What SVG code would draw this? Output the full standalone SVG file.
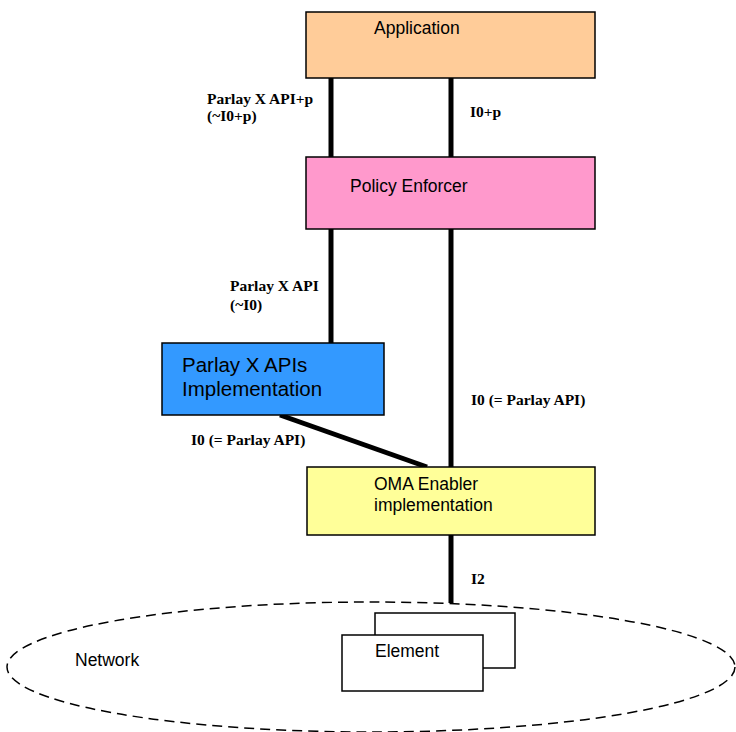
<svg xmlns="http://www.w3.org/2000/svg" width="736" height="732" viewBox="0 0 736 732">
<style>
.box{stroke:#000;stroke-width:1.5}
.t{font-family:"Liberation Sans",Arial,sans-serif;font-size:17.5px;fill:#000}
.lbl{font-family:"Liberation Serif","Times New Roman",serif;font-size:15.5px;font-weight:bold;fill:#000}
.conn{stroke:#000;stroke-width:5;fill:none}
</style>
<rect width="736" height="732" fill="#fff"/>
<g id="network">
<ellipse cx="371" cy="667" rx="364" ry="65" fill="none" stroke="#000" stroke-width="1.5" stroke-dasharray="10,6"/>
<text class="t" x="75" y="666">Network</text>
</g>
<g id="connectors">
<line class="conn" x1="331" y1="78" x2="331" y2="157"/>
<line class="conn" x1="451" y1="78" x2="451" y2="157"/>
<line class="conn" x1="331" y1="229" x2="331" y2="343"/>
<line class="conn" x1="451" y1="229" x2="451" y2="467"/>
<line class="conn" x1="280" y1="415" x2="427" y2="467"/>
<line class="conn" x1="451" y1="535" x2="451" y2="603"/>
<text class="lbl" x="207" y="104">Parlay X API+p</text>
<text class="lbl" x="207" y="121">(~I0+p)</text>
<text class="lbl" x="470" y="117">I0+p</text>
<text class="lbl" x="230" y="291">Parlay X API</text>
<text class="lbl" x="230" y="310">(~I0)</text>
<text class="lbl" x="471" y="405">I0 (= Parlay API)</text>
<text class="lbl" x="191" y="445">I0 (= Parlay API)</text>
<text class="lbl" x="471" y="584">I2</text>
</g>
<g id="application">
<rect class="box" x="306" y="12" width="289" height="66" fill="#FFCC99"/>
<text class="t" x="374" y="34">Application</text>
</g>
<g id="policy-enforcer">
<rect class="box" x="306" y="157" width="289" height="72" fill="#FF99CC"/>
<text class="t" x="350" y="192">Policy Enforcer</text>
</g>
<g id="parlay-x-impl">
<rect class="box" x="162" y="343" width="222" height="72" fill="#3399FF"/>
<text class="t" x="182" y="372" style="font-size:20.5px">Parlay X APIs</text>
<text class="t" x="182" y="396" style="font-size:20.5px">Implementation</text>
</g>
<g id="oma-enabler">
<rect class="box" x="307" y="467" width="288" height="68" fill="#FFFF99"/>
<text class="t" x="374" y="490">OMA Enabler</text>
<text class="t" x="374" y="511">implementation</text>
</g>
<g id="element">
<rect class="box" x="375" y="613" width="140" height="55" fill="#fff"/>
<rect class="box" x="342" y="635" width="141" height="56" fill="#fff"/>
<text class="t" x="375" y="657">Element</text>
</g>
</svg>
